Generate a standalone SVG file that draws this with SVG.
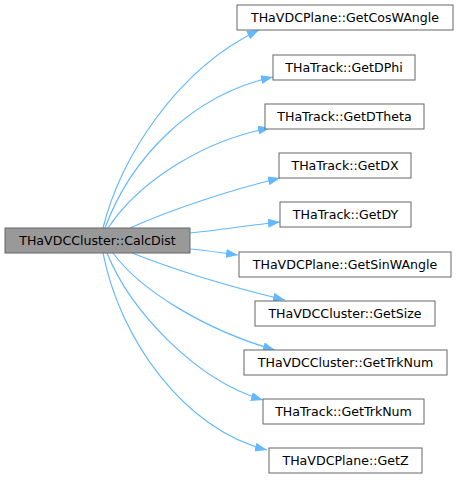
<svg xmlns="http://www.w3.org/2000/svg" width="459" height="480" viewBox="0 0 459 480">
<style>
.n rect{fill:#ffffff;stroke:#666666;stroke-width:1}
.m rect{fill:#999999;stroke:#666666;stroke-width:1}
text{font-family:"DejaVu Sans",sans-serif;font-size:12.6px;fill:#000000;text-anchor:middle}
.e path{fill:none;stroke:#63b8ff;stroke-width:1.2;marker-end:url(#ah)}
</style>
<defs>
<marker id="ah" viewBox="0 0 12 9" refX="12" refY="4.5" markerWidth="12" markerHeight="9" markerUnits="userSpaceOnUse" orient="auto">
<path d="M0,0 L12,4.5 L0,9 Z" fill="#63b8ff" stroke="none"/>
</marker>
</defs>
<rect width="459" height="480" fill="#ffffff"/>
<g id="edges" class="e">
<path d="M103,228 C120,160 175,70 259,30"/>
<path d="M105,228 C130,160 190,95 273,77"/>
<path d="M108,228 C140,180 205,140 270,128"/>
<path d="M130,228 C170,210 230,190 280,178"/>
<path d="M190,233 C220,230 250,225 280,222"/>
<path d="M190,249 C205,250 222,253 238,255"/>
<path d="M132,253 C175,270 235,288 285,300"/>
<path d="M113,253 C140,290 205,330 275,350"/>
<path d="M107,253 C130,310 195,380 263,400"/>
<path d="M103,253 C120,340 185,430 267,450"/>
</g>
<g id="node_calcdist" class="m"><rect x="5" y="228" width="185" height="25"/><text x="97.5" y="245">THaVDCCluster::CalcDist</text></g>
<g id="node_getcoswangle" class="n"><rect x="237" y="5" width="216" height="25"/><text x="345" y="22">THaVDCPlane::GetCosWAngle</text></g>
<g id="node_getdphi" class="n"><rect x="273" y="55" width="142" height="25"/><text x="344" y="72">THaTrack::GetDPhi</text></g>
<g id="node_getdtheta" class="n"><rect x="265" y="104" width="159" height="25"/><text x="344.5" y="121">THaTrack::GetDTheta</text></g>
<g id="node_getdx" class="n"><rect x="279" y="153" width="132" height="25"/><text x="345" y="170">THaTrack::GetDX</text></g>
<g id="node_getdy" class="n"><rect x="280" y="202" width="131" height="25"/><text x="345.5" y="219">THaTrack::GetDY</text></g>
<g id="node_getsinwangle" class="n"><rect x="239" y="252" width="212" height="25"/><text x="345" y="269">THaVDCPlane::GetSinWAngle</text></g>
<g id="node_getsize" class="n"><rect x="255" y="301" width="180" height="25"/><text x="345" y="318">THaVDCCluster::GetSize</text></g>
<g id="node_cluster_gettrknum" class="n"><rect x="244" y="350" width="203" height="25"/><text x="345.5" y="367">THaVDCCluster::GetTrkNum</text></g>
<g id="node_track_gettrknum" class="n"><rect x="263" y="399" width="161" height="25"/><text x="343.5" y="416">THaTrack::GetTrkNum</text></g>
<g id="node_getz" class="n"><rect x="269" y="448" width="153" height="25"/><text x="345.5" y="465">THaVDCPlane::GetZ</text></g>
</svg>
